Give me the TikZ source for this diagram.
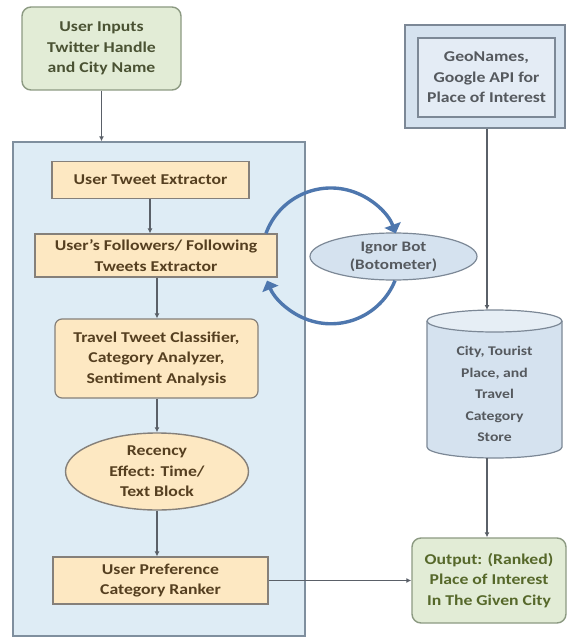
\documentclass[tikz,border=0pt]{standalone}
\usepackage{fontspec}
\setmainfont{Carlito}[FakeStretch=1.18]
\usetikzlibrary{arrows.meta,shapes.geometric}
\definecolor{gfill}{HTML}{E2ECD6}
\definecolor{gdraw}{HTML}{8C9A82}
\definecolor{ofill}{HTML}{FDE8C2}
\definecolor{odraw}{HTML}{85807A}
\definecolor{cfill}{HTML}{DEECF5}
\definecolor{cdraw}{HTML}{7F8F9E}
\definecolor{bfill}{HTML}{D5E2EF}
\definecolor{bdraw}{HTML}{7C8896}
\definecolor{arcblue}{HTML}{4E77AE}
\definecolor{otext}{HTML}{553F20}
\definecolor{gtext}{HTML}{4A5233}
\definecolor{outtext}{HTML}{56682A}
\definecolor{btext}{HTML}{55595E}
\definecolor{lnk}{HTML}{5A6068}
\tikzset{
  every node/.style={font=\bfseries\fontsize{15}{20.5}\selectfont, align=center, inner sep=0pt},
  greenbox/.style={draw=gdraw, fill=gfill, line width=1.4pt, rounded corners=9pt, text=gtext},
  orangebox/.style={draw=odraw, fill=ofill, line width=1.2pt, text=otext},
  orangeround/.style={orangebox, rounded corners=7pt},
  bluebox/.style={draw=bdraw, fill=bfill, line width=1.2pt, text=btext},
  link/.style={draw=lnk, line width=1.2pt, -{Latex[length=5pt,width=5pt]}},
  bigarc/.style={draw=arcblue, line width=3.4pt, -{Triangle[length=9pt,width=17pt]}},
}
\begin{document}
\begin{tikzpicture}[x=1pt,y=1pt]
\useasboundingbox (0,0) rectangle (566,-639);
\fill[white] (0,0) rectangle (566,-639);
% container
\node[draw=cdraw, fill=cfill, line width=1.4pt, minimum width=292pt, minimum height=494pt] (box) at (159,-389) {};
% user inputs
\node[greenbox, minimum width=159pt, minimum height=83pt] (inp) at (101.5,-48.5) {User Inputs\\Twitter Handle\\and City Name};
% steps
\node[orangebox, minimum width=197pt, minimum height=37pt] (ext) at (150.5,-180) {User Tweet Extractor};
\node[orangebox, minimum width=242pt, minimum height=43pt] (fol) at (156,-255.5) {User's Followers/ Following\\Tweets Extractor};
\node[orangeround, minimum width=203pt, minimum height=79pt] (cls) at (156.5,-358.5) {Travel Tweet Classifier,\\Category Analyzer,\\Sentiment Analysis};
\node[ellipse, draw=odraw, fill=ofill, line width=1.4pt, text=otext, minimum width=183pt, minimum height=77pt] (rec) at (157,-471.5) {Recency\\Effect: Time/\\Text Block};
\node[orangebox, minimum width=215pt, minimum height=47pt] (rank) at (160.5,-580.5) {User Preference\\Category Ranker};
% right column
\node[bluebox, minimum width=160pt, minimum height=103pt] (geo) at (485,-76.5) {};
\node[draw=bdraw, fill=white!35!bfill, line width=1.2pt, text=btext, minimum width=137pt, minimum height=79pt] (geoin) at (486.5,-77.5) {GeoNames,\\Google API for\\Place of Interest};
% cylinder
\coordinate (cyltop) at (487,-310);
\coordinate (cylbot) at (487,-458);
\fill[bfill] (427,-321) arc[start angle=180,end angle=360,x radius=67.5,y radius=11] -- (562,-447) arc[start angle=0,end angle=-180,x radius=67.5,y radius=11] -- cycle;
\fill[bfill!60!white] (494.5,-321) ellipse[x radius=67.5,y radius=11];
\draw[bdraw, line width=1.2pt] (427,-321) -- (427,-447) arc[start angle=180,end angle=360,x radius=67.5,y radius=11] -- (562,-321);
\draw[bdraw, line width=1.2pt] (494.5,-321) ellipse[x radius=67.5,y radius=11];
\node[text=btext, font=\bfseries\fontsize{13.3}{21.5}\selectfont] (cyl) at (494.5,-394) {City, Tourist\\Place, and\\Travel\\Category\\Store};
% output
\node[greenbox, minimum width=154pt, minimum height=85pt, text=outtext] (out) at (489,-580.5) {Output: (Ranked)\\Place of Interest\\In The Given City};
% bot
\node[ellipse, draw=bdraw, fill=bfill, line width=1.2pt, text=btext, minimum width=167pt, minimum height=47pt, font=\bfseries\fontsize{14.5}{18}\selectfont] (bot) at (393.5,-256.5) {Ignor Bot\\(Botometer)};
% links
\draw[link] (inp.south) -- (inp.south |- box.north);
\draw[link] (ext.south -| 150,0) -- (fol.north -| 150,0);
\draw[link] (fol.south -| 157,0) -- (cls.north -| 157,0);
\draw[link] (cls.south -| 157,0) -- (rec.north);
\draw[link] (rec.south) -- (rank.north -| 157,0);
\draw[link] (rank.east) -- (out.west);
\draw[link] (geo.south -| 487,0) -- (cyltop);
\draw[link] (cylbot) -- (out.north -| 487,0);
% loop arrows
\coordinate (a1) at (fol.north -| 266,0);
\coordinate (a2) at (bot.south -| 395,0);
\draw[bigarc] (a1) arc[start angle=160, end angle=20, radius=69];
\draw[bigarc] (a2) arc[start angle=-22, end angle=-158, radius=69];
\end{tikzpicture}
\end{document}
